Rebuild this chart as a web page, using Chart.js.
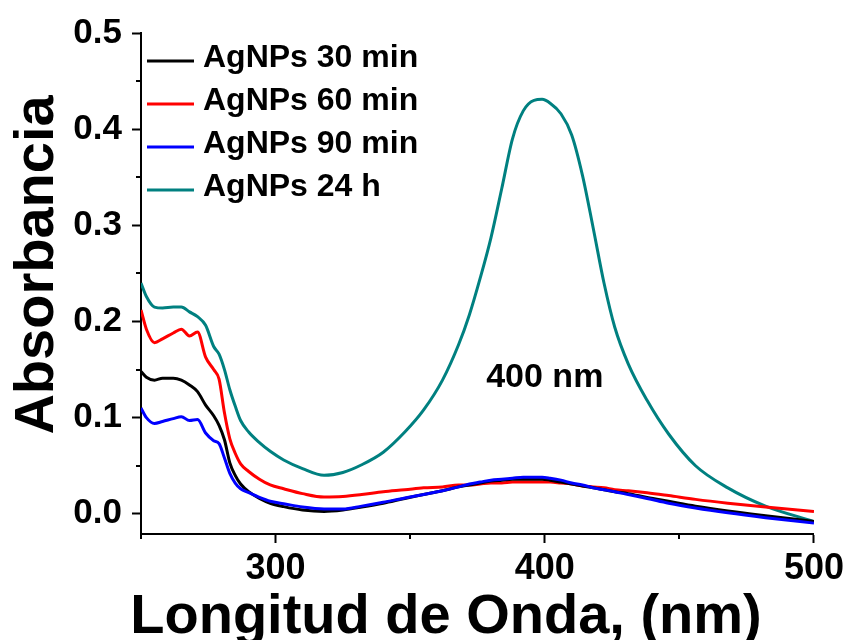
<!DOCTYPE html>
<html>
<head>
<meta charset="utf-8">
<script src="https://cdn.jsdelivr.net/npm/chart.js@4.4.0/dist/chart.umd.min.js"></script>
<style>
  body { margin: 0; background: #fff; }
  #wrap { width: 848px; height: 640px; }
</style>
</head>
<body>
<div id="wrap"><canvas id="uvChart" width="848" height="640"></canvas></div>
<script>
// wavelengths (nm)
const wavelength = [250, 252, 255, 258, 262, 265, 268, 271, 274, 277, 279, 281, 283, 285, 287, 290, 294, 298, 303, 310,
    318, 325, 332, 340, 348, 355, 362, 368, 372, 376, 380, 384, 388, 392, 396, 399, 402, 406, 410, 414,
    418, 422, 426, 431, 438, 446, 456, 468, 482, 500];

// absorbance for each sample
const ag30 = [0.148, 0.142, 0.139, 0.141, 0.141, 0.139, 0.134, 0.127, 0.113, 0.102, 0.092, 0.077, 0.053, 0.040, 0.031, 0.023, 0.016, 0.011, 0.0075, 0.004,
    0.0025, 0.004, 0.007, 0.011, 0.016, 0.020, 0.024, 0.028, 0.030, 0.032, 0.034, 0.035, 0.036, 0.036, 0.036, 0.036, 0.035, 0.033, 0.031, 0.029,
    0.027, 0.025, 0.023, 0.021, 0.017, 0.013, 0.008, 0.003, -0.002, -0.008];
const ag60 = [0.212, 0.192, 0.178, 0.182, 0.188, 0.192, 0.185, 0.189, 0.163, 0.150, 0.140, 0.105, 0.078, 0.063, 0.052, 0.044, 0.036, 0.030, 0.026, 0.021,
    0.0175, 0.018, 0.020, 0.023, 0.025, 0.027, 0.028, 0.030, 0.030, 0.031, 0.032, 0.032, 0.033, 0.033, 0.033, 0.033, 0.033, 0.032, 0.031, 0.029,
    0.028, 0.027, 0.025, 0.024, 0.022, 0.019, 0.015, 0.011, 0.007, 0.0025];
const ag90 = [0.110, 0.100, 0.094, 0.096, 0.099, 0.101, 0.097, 0.098, 0.084, 0.076, 0.073, 0.058, 0.042, 0.032, 0.026, 0.022, 0.017, 0.013, 0.0105, 0.007,
    0.005, 0.005, 0.008, 0.012, 0.0165, 0.020, 0.024, 0.028, 0.031, 0.033, 0.035, 0.036, 0.037, 0.038, 0.038, 0.038, 0.037, 0.035, 0.032, 0.030,
    0.027, 0.025, 0.023, 0.020, 0.016, 0.011, 0.006, 0.001, -0.004, -0.0097];
const ag24h = [0.240, 0.226, 0.215, 0.214, 0.215, 0.215, 0.210, 0.205, 0.196, 0.174, 0.166, 0.150, 0.129, 0.112, 0.097, 0.085, 0.074, 0.065, 0.056, 0.047,
    0.040, 0.043, 0.051, 0.064, 0.085, 0.108, 0.139, 0.176, 0.207, 0.245, 0.287, 0.338, 0.390, 0.419, 0.430, 0.431, 0.427, 0.416, 0.394, 0.352,
    0.297, 0.240, 0.194, 0.156, 0.118, 0.083, 0.050, 0.027, 0.008, -0.008];

const seriesLabels = ['AgNPs 30 min', 'AgNPs 60 min', 'AgNPs 90 min', 'AgNPs 24 h'];
const seriesColors = ['#000000', '#ff0000', '#0000ff', '#008080'];
const xTicks = [300, 400, 500];
const xMinor = [250, 350, 450];
const yTicks = [0.0, 0.1, 0.2, 0.3, 0.4, 0.5];
const yMinor = [0.05, 0.15, 0.25, 0.35, 0.45];

const FONT = '"Liberation Sans", Arial, sans-serif';

const toPoints = (vals) => vals.map((v, i) => ({ x: wavelength[i], y: v }));

// minor ticks, legend, axis titles and peak note
const extras = {
    id: 'extras',
    afterDraw(chart) {
        const ctx = chart.ctx;
        const xs = chart.scales.x, ys = chart.scales.y;
        const area = chart.chartArea;
        ctx.save();
        ctx.strokeStyle = '#000';
        ctx.lineWidth = 2;
        yMinor.forEach(v => {
            const py = Math.round(ys.getPixelForValue(v));
            ctx.beginPath(); ctx.moveTo(area.left - 5, py); ctx.lineTo(area.left, py); ctx.stroke();
        });
        xMinor.forEach(v => {
            const px = Math.round(xs.getPixelForValue(v));
            ctx.beginPath(); ctx.moveTo(px, area.bottom); ctx.lineTo(px, area.bottom + 5); ctx.stroke();
        });

        // legend
        ctx.font = 'bold 32px ' + FONT;
        ctx.textAlign = 'left';
        ctx.textBaseline = 'alphabetic';
        chart.data.datasets.forEach((ds, i) => {
            const ly = 61 + i * 43;
            ctx.strokeStyle = ds.borderColor;
            ctx.lineWidth = 3;
            ctx.beginPath(); ctx.moveTo(147, ly); ctx.lineTo(194, ly); ctx.stroke();
            ctx.fillStyle = '#000';
            ctx.fillText(ds.label, 203, ly + 6);
        });

        // peak label
        ctx.font = 'bold 34px ' + FONT;
        ctx.textAlign = 'center';
        ctx.fillText('400 nm', xs.getPixelForValue(400), 387);

        // axis titles
        ctx.font = 'bold 56px ' + FONT;
        ctx.fillText('Longitud de Onda, (nm)', 446, 633);
        ctx.translate(53, 265);
        ctx.rotate(-Math.PI / 2);
        ctx.fillText('Absorbancia', 0, 0);
        ctx.restore();
    }
};

new Chart(document.getElementById('uvChart').getContext('2d'), {
    type: 'line',
    data: {
        datasets: [ag30, ag60, ag90, ag24h].map((vals, i) => ({
            label: seriesLabels[i],
            data: toPoints(vals),
            borderColor: seriesColors[i],
            borderWidth: 3,
            pointRadius: 0,
            fill: false,
            cubicInterpolationMode: 'monotone',
            order: [1, 2, 0, 3][i]
        }))
    },
    options: {
        responsive: false,
        animation: false,
        layout: { padding: { top: 33, right: 32, left: 0, bottom: 0 } },
        plugins: { legend: { display: false }, tooltip: { enabled: false } },
        scales: {
            x: {
                type: 'linear',
                min: 250,
                max: 500,
                afterBuildTicks: s => { s.ticks = xTicks.map(v => ({ value: v })); },
                afterFit: s => { s.height = 106; },
                border: { color: '#000', width: 2 },
                grid: { drawOnChartArea: false, drawTicks: true, tickLength: 9, tickColor: '#000', tickWidth: 2 },
                ticks: { color: '#000', padding: 4, maxRotation: 0, font: { family: FONT, size: 36, weight: 'bold' } }
            },
            y: {
                min: -0.021,
                max: 0.5,
                afterBuildTicks: s => { s.ticks = yTicks.map(v => ({ value: v })); },
                afterFit: s => { s.width = 141; },
                border: { color: '#000', width: 2 },
                grid: { drawOnChartArea: false, drawTicks: true, tickLength: 9, tickColor: '#000', tickWidth: 2 },
                ticks: {
                    color: '#000', padding: 10,
                    font: { family: FONT, size: 35, weight: 'bold' },
                    callback: v => v.toFixed(1)
                }
            }
        }
    },
    plugins: [extras]
});
</script>
</body>
</html>
